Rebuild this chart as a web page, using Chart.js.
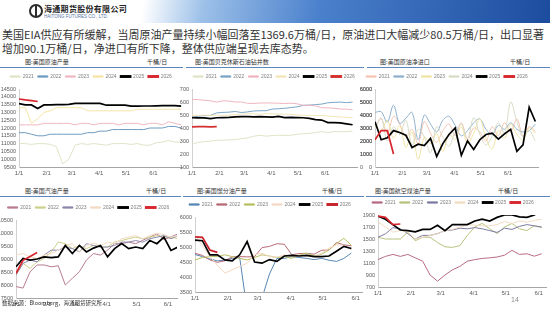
<!DOCTYPE html>
<html>
<head>
<meta charset="utf-8">
<script src="https://cdn.jsdelivr.net/npm/chart.js@4.4.1/dist/chart.umd.min.js"></script>
<style>
  body { margin: 0; width: 550px; height: 310px; overflow: hidden; background: #fff; position: relative;
         font-family: "Noto Sans CJK SC", "Noto Sans", sans-serif; }
  .banner { position: absolute; left: 0; top: 0; width: 550px; height: 23px;
            background: linear-gradient(100deg, #fff 0%, #fff 26%, #9cc0e8 37%, #4a80cc 58%, #1c4c9e 100%); }
  .logo { position: absolute; left: 29px; top: 4px; width: 10px; height: 10px; border: 2px solid #2b2b2b; border-radius: 50%; }
  .logo:after { content: ""; position: absolute; left: 4px; top: -1px; width: 2px; height: 12px; background: #2b2b2b; }
  .cname { position: absolute; left: 44px; top: 3px; font-size: 8px; font-weight: bold; color: #222; letter-spacing: 0.3px; }
  .ename { position: absolute; left: 44px; top: 14px; font-size: 4.5px; color: #5573a0; font-family: "Liberation Sans", sans-serif; }
  .para { position: absolute; left: 2px; top: 28px; font-size: 11px; line-height: 13.5px; color: #333; white-space: nowrap; }
  .title { position: absolute; font-size: 6px; color: #333; white-space: nowrap; }
  .sep { position: absolute; height: 1px; background: #5b86bf; }
  canvas { position: absolute; }
  .src { position: absolute; left: 2px; top: 299px; font-size: 5.5px; color: #333; white-space: nowrap; }
  .page { position: absolute; left: 511px; top: 296px; font-size: 7px; color: #8c8c8c; font-family: "Liberation Sans", sans-serif; }
</style>
</head>
<body>
<div class="banner"></div>
<div class="logo"></div>
<div class="cname">海通期货股份有限公司</div>
<div class="ename">HAITONG FUTURES CO., LTD.</div>
<div class="para">美国EIA供应有所缓解，当周原油产量持续小幅回落至1369.6万桶/日，原油进口大幅减少80.5万桶/日，出口显著<br>增加90.1万桶/日，净进口有所下降，整体供应端呈现去库态势。</div>

<div class="title" style="left:25px;top:57px">图:美国原油产量</div>
<div class="title" style="left:147px;top:57px">千桶/日</div>
<div class="title" style="left:195px;top:57px">图:美国贝克休斯石油钻井数</div>
<div class="title" style="left:380px;top:57px">图:美国原油净进口</div>
<div class="title" style="left:510px;top:57px">千桶/日</div>
<div class="sep" style="left:0;top:67px;width:183px"></div>
<div class="sep" style="left:186px;top:67px;width:178px"></div>
<div class="sep" style="left:367px;top:67px;width:183px"></div>

<div class="title" style="left:25px;top:186px">图:美国汽油产量</div>
<div class="title" style="left:146px;top:186px">千桶/日</div>
<div class="title" style="left:197px;top:186px">图:美国馏分油产量</div>
<div class="title" style="left:322px;top:186px">千桶/日</div>
<div class="title" style="left:375px;top:186px">图:美国航空煤油产量</div>
<div class="title" style="left:498px;top:186px">千桶/日</div>
<div class="sep" style="left:0;top:196px;width:181px"></div>
<div class="sep" style="left:183px;top:196px;width:181px"></div>
<div class="sep" style="left:366px;top:196px;width:184px"></div>

<canvas id="c1" width="185" height="110" style="left:0;top:68px"></canvas>
<canvas id="c2" width="196" height="110" style="left:176px;top:68px"></canvas>
<canvas id="c3" width="194" height="110" style="left:356px;top:68px"></canvas>
<canvas id="c4" width="182" height="110" style="left:0;top:199px"></canvas>
<canvas id="c5" width="186" height="108" style="left:178px;top:196px"></canvas>
<canvas id="c6" width="190" height="104" style="left:360px;top:194px"></canvas>

<div class="src">数据来源：Bloomberg，海通期货研究所</div>
<div class="page">14</div>

<script>
// 공통 데이터: 연도, 주간 x값(1/1부터 일수), 월 눈금
const years = ["2021", "2022", "2023", "2024", "2025", "2026"];
const weekDays = [0, 7, 14, 21, 28, 35, 42, 49, 56, 63, 70, 77, 84, 91, 98, 105, 112, 119, 126, 133, 140, 147, 154, 161, 168, 175, 182];
const monthDays = [0, 31, 59, 90, 120, 151];
const monthLabels = ["1/1", "2/1", "3/1", "4/1", "5/1", "6/1"];

// 1. 美国原油产量
const crude2021 = [11000, 11000, 10950, 11000, 11000, 10950, 10800, 9700, 10000, 10900, 11000, 10950, 11000, 10950, 10900, 11000, 11000, 11000, 10950, 11000, 10900, 10900, 11050, 11100, 11200, 11100, 11100];
const crude2022 = [11700, 11700, 11600, 11500, 11500, 11600, 11600, 11600, 11600, 11600, 11600, 11700, 11700, 11800, 11800, 11900, 11900, 11900, 11900, 11900, 11900, 12000, 12000, 12000, 12100, 12100, 12000];
const crude2023 = [12200, 12200, 12200, 12200, 12300, 12300, 12300, 12300, 12300, 12200, 12300, 12300, 12200, 12300, 12300, 12300, 12200, 12300, 12300, 12300, 12200, 12300, 12300, 12200, 12400, 12300, 12200];
const crude2024 = [13300, 13300, 12300, 12600, 13000, 13100, 13300, 13300, 13300, 13300, 13300, 13100, 13100, 13100, 13100, 13100, 13100, 13100, 13100, 13200, 13200, 13200, 13200, 13200, 13200, 13200, 13200];
const crude2025 = [13560, 13480, 13480, 13250, 13480, 13480, 13500, 13500, 13510, 13580, 13580, 13580, 13580, 13580, 13460, 13460, 13460, 13460, 13400, 13400, 13410, 13410, 13420, 13430, 13430, 13430, 13400];
const crude2026 = [13860, 13800, 13760, 13700];

// 2. 美国贝克休斯石油钻井数
const rigs2021 = [275, 289, 295, 299, 306, 306, 309, 310, 318, 324, 337, 344, 337, 342, 344, 343, 344, 352, 356, 359, 365, 372, 365, 373, 372, 372, 376];
const rigs2022 = [480, 491, 495, 497, 516, 520, 522, 527, 519, 524, 531, 533, 533, 546, 548, 552, 557, 563, 574, 576, 580, 584, 594, 597, 599, 595, 599];
const rigs2023 = [621, 618, 613, 609, 599, 609, 607, 600, 600, 590, 589, 592, 593, 592, 591, 588, 591, 586, 575, 575, 570, 556, 555, 552, 546, 545, 540];
const rigs2024 = [499, 497, 499, 497, 499, 497, 499, 503, 506, 510, 508, 506, 510, 509, 508, 506, 506, 499, 497, 496, 497, 496, 492, 488, 485, 482, 479];
const rigs2025 = [480, 478, 478, 472, 479, 480, 481, 486, 487, 487, 486, 487, 486, 484, 489, 480, 481, 480, 479, 474, 465, 461, 442, 442, 439, 432, 425];
const rigs2026 = [409, 410, 411, 409, 410];

// 3. 美国原油净进口
const netimp2021 = [3000, 3700, 2600, 3900, 3300, 2300, 2900, 1800, 3500, 2600, 1900, 2800, 3300, 2400, 3400, 2100, 3000, 2700, 2000, 3100, 2400, 3400, 2700, 3700, 2400, 3100, 2700];
const netimp2022 = [4200, 4250, 3450, 4750, 3350, 3750, 4200, 2100, 4000, 3300, 2700, 3600, 3900, 3200, 2400, 2800, 3400, 3700, 2900, 2500, 3200, 2900, 3400, 2900, 2700, 2800, 3300];
const netimp2023 = [3300, 2800, 3600, 2200, 3200, 1500, 2700, 600, 2300, 1800, 2600, 1200, 2500, 2100, 3100, 1800, 2600, 3700, 2200, 1400, 2800, 2200, 3300, 2500, 2100, 3000, 2600];
const netimp2024 = [2900, 3800, 2000, 3100, 2500, 3600, 1700, 2900, 2300, 1100, 3100, 2300, 1600, 2700, 3300, 2200, 3800, 2500, 1700, 2400, 3400, 2600, 5000, 3500, 2300, 2800, 2000];
const netimp2025 = [3480, 2100, 2250, 2800, 2650, 2450, 1500, 1750, 1650, 2200, 800, 1800, 2500, 3000, 900, 2000, 1350, 2100, 2500, 2600, 2150, 2550, 2900, 1200, 1700, 4600, 3500];
const netimp2026 = [2100, 2800, 2800, 1000];

// 4. 美国汽油产量
const gas2021 = [7940, 7880, 8510, 8770, 8770, 8700, 8740, 8000, 8260, 8510, 8960, 9210, 9150, 9340, 9590, 9590, 9650, 9590, 9720, 9840, 9970, 9750, 9850, 9970];
const gas2022 = [8390, 8830, 8640, 8890, 9020, 9270, 9650, 9590, 9400, 9520, 9400, 9520, 9460, 9460, 9650, 9710, 9780, 9840, 9780, 9840, 9900, 9840, 9840, 9780];
const gas2023 = [8390, 8830, 8960, 8890, 9150, 9340, 9340, 9460, 9400, 9270, 9590, 9520, 9460, 9460, 9520, 9650, 9650, 9710, 9650, 9780, 9840, 9900, 9780, 9900];
const gas2024 = [9150, 9210, 9080, 9020, 9150, 9210, 9340, 9520, 9590, 9270, 9520, 9610, 9520, 9650, 9590, 9780, 9840, 9900, 9780, 9900, 9990, 9940, 9840, 9900];
const gas2025 = [8700, 9020, 8960, 9000, 9080, 9050, 9080, 9520, 9210, 9520, 9270, 9420, 9520, 9080, 9400, 9590, 9400, 9460, 9400, 9710, 9590, 9840, 9330, 9460];
const gas2026 = [8450, 8950, 9100, 9250];

// 5. 美国馏分油产量
const dist2021 = [4750, 4680, 4600, 4540, 4560, 4620, 4650, 2900, 2800, 3300, 4100, 4620, 4620, 4680, 4650, 4620, 4580, 4620, 4560, 4520, 4620, 4800];
const dist2022 = [4790, 4720, 4570, 4490, 4540, 4670, 4680, 4670, 4680, 4980, 5020, 5110, 5090, 4740, 4780, 4790, 4760, 4890, 4900, 5150, 5070, 5040];
const dist2023 = [4570, 4650, 4680, 4680, 4740, 4680, 4620, 4570, 4650, 4740, 4700, 4650, 4680, 4620, 4740, 4790, 4700, 4760, 4900, 5120, 5290, 5060];
const dist2024 = [5400, 5040, 4680, 4400, 4130, 4240, 4350, 4460, 4740, 4790, 4680, 4660, 4740, 4680, 4740, 4700, 4680, 4790, 4960, 5070, 5060, 4900];
const dist2025 = [5230, 5210, 4740, 4740, 4570, 4540, 4740, 5180, 4500, 4460, 4580, 4520, 4700, 4720, 4700, 4720, 4680, 4680, 4700, 4860, 5020, 4950];
const dist2026 = [5340, 5320, 4900, 4820];

// 6. 美国航空煤油产量
const jet2021 = [1157, 1210, 1243, 1210, 1243, 1186, 1130, 900, 797, 900, 986, 1043, 1130, 1157, 1176, 1186, 1200, 1230, 1311, 1243, 1254, 1214, 1254];
const jet2022 = [1529, 1500, 1500, 1500, 1614, 1471, 1529, 1529, 1440, 1370, 1360, 1390, 1560, 1700, 1760, 1670, 1590, 1700, 1760, 1670, 1640, 1720, 1690];
const jet2023 = [1529, 1586, 1689, 1670, 1590, 1500, 1560, 1560, 1590, 1640, 1650, 1680, 1670, 1690, 1670, 1640, 1610, 1680, 1660, 1710, 1740, 1720, 1700];
const jet2024 = [1786, 1700, 1614, 1643, 1614, 1500, 1529, 1557, 1590, 1640, 1660, 1700, 1740, 1730, 1720, 1720, 1740, 1790, 1760, 1800, 1780, 1810, 1830];
const jet2025 = [1880, 1830, 1740, 1650, 1640, 1620, 1660, 1660, 1730, 1640, 1740, 1740, 1740, 1800, 1830, 1800, 1860, 1900, 1900, 1870, 1860, 1900, 1990];
const jet2026 = [1880, 1860, 1740, 1750];

Chart.defaults.font.family = "'Liberation Sans', Arial, sans-serif";
Chart.defaults.font.size = 5.5;
Chart.defaults.color = "#595959";
Chart.defaults.animation = false;

// 차트 하나를 만드는 함수
const makeChart = (id, o) => {
  const datasets = o.values.map((vals, i) => ({
    label: years[i],
    data: vals,
    borderColor: o.colors[i],
    backgroundColor: o.colors[i],
    borderWidth: i >= 4 ? 1.7 : 1,
    pointRadius: 0,
    tension: i < 4 ? o.smooth || 0 : 0,
    order: 6 - i,
    yAxisID: "y",
  }));

  const scales = {
    x: {
      type: "linear",
      min: 0,
      max: o.xMax,
      grid: { display: false, drawTicks: false },
      border: { color: "#a6a6a6" },
      afterBuildTicks: (axis) => {
        axis.ticks = monthDays.map((v) => ({ value: v }));
      },
      afterFit: (axis) => {
        axis.height = o.xHeight;
      },
      ticks: {
        autoSkip: false,
        maxRotation: 0,
        padding: 3,
        font: { size: 6 },
        callback: (v) => monthLabels[monthDays.indexOf(v)],
      },
    },
    y: {
      min: o.yMin,
      max: o.yMax,
      grid: { display: false, drawTicks: false },
      border: { color: "#d0d0d0" },
      afterFit: (axis) => {
        axis.width = o.yWidth;
      },
      ticks: { stepSize: o.yStep, padding: 3, autoSkip: false, callback: (v) => String(v) },
    },
  };
  if (o.right) {
    scales.y2 = {
      position: "right",
      min: o.right.min,
      max: o.right.max,
      grid: { display: false, drawTicks: false },
      border: { display: false },
      afterFit: (axis) => {
        axis.width = o.right.width;
      },
      ticks: { stepSize: o.right.step, padding: 3, autoSkip: false, callback: (v) => String(v) },
    };
  }

  new Chart(document.getElementById(id), {
    type: "line",
    data: { labels: weekDays, datasets: datasets },
    options: {
      responsive: false,
      layout: { padding: { top: o.padTop, right: o.padRight, left: 0, bottom: 0 } },
      scales: scales,
      plugins: {
        tooltip: { enabled: false },
        legend: {
          position: "top",
          labels: {
            boxWidth: 10,
            boxHeight: 1.2,
            padding: 4,
            color: "#808080",
            font: { size: 5 },
            sort: (a, b) => a.datasetIndex - b.datasetIndex,
          },
        },
      },
    },
  });
};

makeChart("c1", {
  values: [crude2021, crude2022, crude2023, crude2024, crude2025, crude2026],
  colors: ["#dde5c6", "#6f9cc0", "#efb8c2", "#f6e3a6", "#000000", "#d7262e"],
  xMax: 183, yMin: 9500, yMax: 14500, yStep: 500, yWidth: 19, xHeight: 11, padTop: 2, padRight: 3,
});

makeChart("c2", {
  values: [rigs2021, rigs2022, rigs2023, rigs2024, rigs2025, rigs2026],
  colors: ["#dde5c6", "#7aa5c6", "#efb5c0", "#f3e5b8", "#000000", "#d32f2f"],
  xMax: 187, yMin: 100, yMax: 700, yStep: 100, yWidth: 16, xHeight: 11, padTop: 2, padRight: 0,
  right: { min: 0, max: 6000, step: 1000, width: 15 },
});

makeChart("c3", {
  values: [netimp2021, netimp2022, netimp2023, netimp2024, netimp2025, netimp2026],
  colors: ["#f3c4b2", "#8fb1cd", "#efe4a4", "#d8dcc6", "#000000", "#d7262e"],
  xMax: 185, yMin: 0, yMax: 6000, yStep: 1000, yWidth: 19, xHeight: 11, padTop: 2, padRight: 12, smooth: 0.35,
});

makeChart("c4", {
  values: [gas2021, gas2022, gas2023, gas2024, gas2025, gas2026],
  colors: ["#b97c8e", "#cbd08a", "#8c88aa", "#f3dac4", "#000000", "#d7262e"],
  xMax: 160, yMin: 7500, yMax: 10500, yStep: 500, yWidth: 16, xHeight: 11, padTop: 2, padRight: 5,
});

makeChart("c5", {
  values: [dist2021, dist2022, dist2023, dist2024, dist2025, dist2026],
  colors: ["#5787b6", "#b86a74", "#b9bf62", "#f5d8c2", "#000000", "#c8202a"],
  xMax: 157, yMin: 3500, yMax: 6000, yStep: 500, yWidth: 17, xHeight: 12, padTop: 2, padRight: 2,
});

makeChart("c6", {
  values: [jet2021, jet2022, jet2023, jet2024, jet2025, jet2026],
  colors: ["#b86c82", "#b7c27e", "#7c7ca2", "#f2dcc2", "#000000", "#d7262e"],
  xMax: 158, yMin: 700, yMax: 1900, yStep: 200, yWidth: 18, xHeight: 11, padTop: 2, padRight: 4,
});
</script>
</body>
</html>
